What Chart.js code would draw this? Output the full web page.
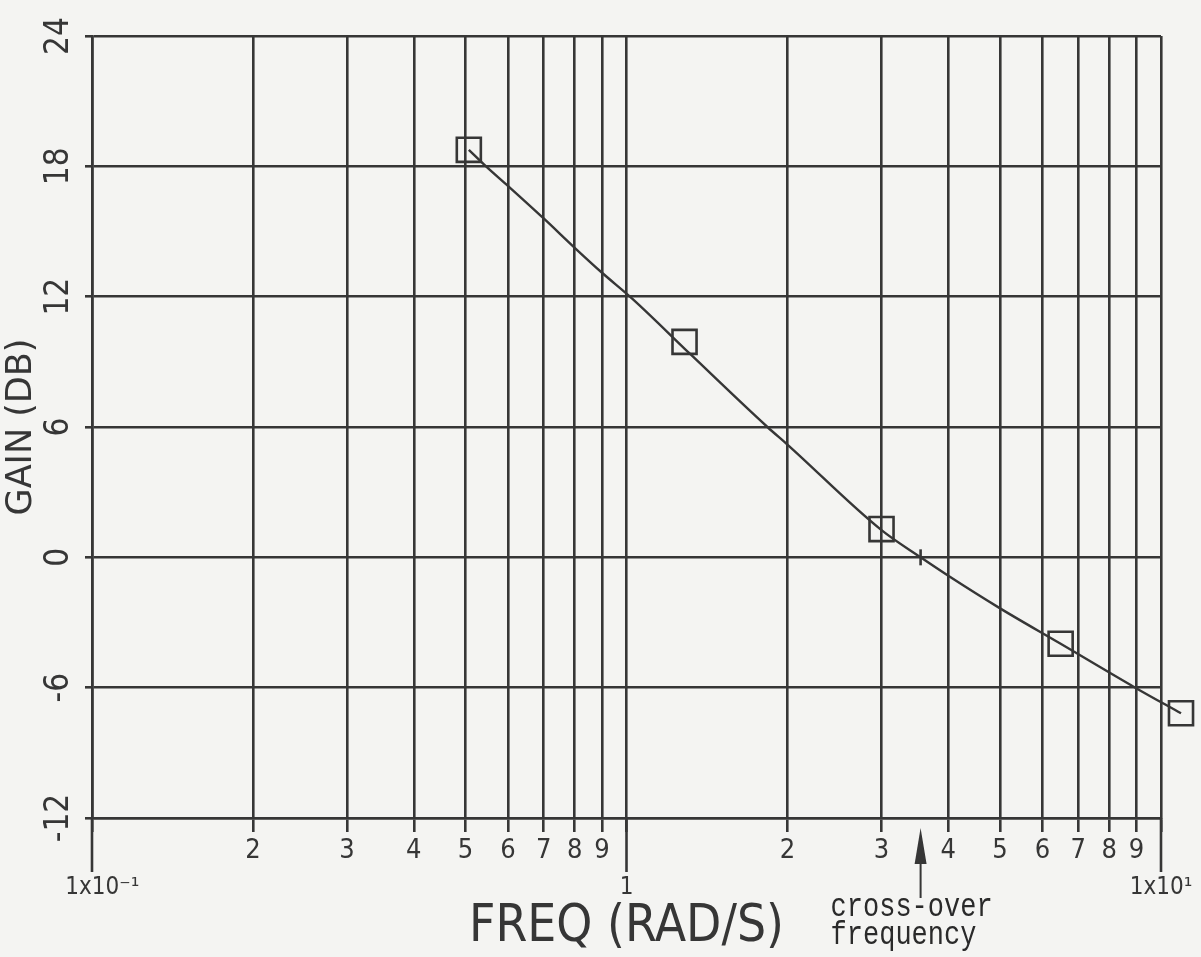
<!DOCTYPE html>
<html>
<head>
<meta charset="utf-8">
<title>Gain vs frequency</title>
<script src="https://cdn.jsdelivr.net/npm/chart.js@4.4.1/dist/chart.umd.min.js"></script>
<style>
  html, body { margin: 0; padding: 0; background: #f4f4f2; }
  #wrap { width: 1201px; height: 957px; }
</style>
</head>
<body>
<div id="wrap"><canvas id="chart" width="1201" height="957"></canvas></div>
<script>
// gain curve (rad/s, dB)
const curveFreq = [0.507, 0.546, 0.60, 0.70, 0.80, 0.90, 1.026, 1.317, 1.835, 2.0, 3.0, 3.55, 4.0, 5.0, 6.49, 8.95, 10.9];
const curveGain = [18.76, 18.0, 17.1, 15.6, 14.25, 13.1, 11.9, 9.35, 6.0, 5.19, 1.25, 0.0, -0.85, -2.35, -3.98, -6.0, -7.18];

// sample points (square markers)
const markerFreq = [0.507, 1.284, 3.0, 6.49, 10.9];
const markerGain = [18.76, 9.92, 1.3, -3.98, -7.18];

const crossoverFreq = 3.55;

const xTickValues = [0.1, 0.2, 0.3, 0.4, 0.5, 0.6, 0.7, 0.8, 0.9, 1, 2, 3, 4, 5, 6, 7, 8, 9, 10];
const xTickLabels = ['1x10⁻¹', '2', '3', '4', '5', '6', '7', '8', '9', '1', '2', '3', '4', '5', '6', '7', '8', '9', '1x10¹'];
const xMajorTicks = [0.1, 1, 10];
const yTickValues = [-12, -6, 0, 6, 12, 18, 24];
const yTickLabels = ['-12', '-6', '0', '6', '12', '18', '24'];

const INK = '#363636';
const FONT = "'DejaVu Sans Condensed', 'DejaVu Sans', sans-serif";

const toPoints = (xs, ys) => xs.map((v, i) => ({ x: v, y: ys[i] }));

// markers past the right edge are skipped by the point element, draw them anyway
const overflowPoints = {
  id: 'overflowPoints',
  afterDatasetsDraw(chart) {
    const { ctx, chartArea: a } = chart;
    const meta = chart.getDatasetMeta(1);
    meta.data.forEach(el => {
      if (el.x < a.left || el.x > a.right || el.y < a.top || el.y > a.bottom) el.draw(ctx);
    });
  }
};

// decade ticks, cross-over mark and the arrow note
const extras = {
  id: 'extras',
  afterDraw(chart) {
    const { ctx, scales: { x, y } } = chart;
    const bottom = chart.chartArea.bottom;
    ctx.save();
    ctx.strokeStyle = INK;
    ctx.fillStyle = INK;
    ctx.lineWidth = 2.6;

    xMajorTicks.forEach(v => {
      const px = x.getPixelForValue(v);
      ctx.beginPath();
      ctx.moveTo(px, bottom);
      ctx.lineTo(px, bottom + 54);
      ctx.stroke();
    });

    const cx = x.getPixelForValue(crossoverFreq);
    const cy = y.getPixelForValue(0);
    ctx.beginPath();
    ctx.moveTo(cx, cy - 8);
    ctx.lineTo(cx, cy + 8);
    ctx.stroke();

    ctx.lineWidth = 2;
    ctx.beginPath();
    ctx.moveTo(cx, bottom + 44);
    ctx.lineTo(cx, bottom + 80);
    ctx.stroke();
    ctx.beginPath();
    ctx.moveTo(cx, bottom + 10);
    ctx.lineTo(cx - 6, bottom + 46);
    ctx.lineTo(cx + 6, bottom + 46);
    ctx.closePath();
    ctx.fill();

    ctx.fillStyle = '#2a2a2a';
    ctx.font = "27px 'Liberation Mono', monospace";
    ctx.textAlign = 'left';
    ctx.textBaseline = 'alphabetic';
    [['cross-over', 98], ['frequency', 126]].forEach(([txt, dy]) => {
      ctx.save();
      ctx.translate(cx - 90, bottom + dy);
      ctx.scale(1, 1.25);
      ctx.fillText(txt, 0, 0);
      ctx.restore();
    });
    ctx.restore();
  }
};

new Chart(document.getElementById('chart'), {
  type: 'scatter',
  data: {
    datasets: [
      {
        data: toPoints(curveFreq, curveGain),
        showLine: true,
        borderColor: INK,
        borderWidth: 2.4,
        pointRadius: 0,
        cubicInterpolationMode: 'monotone',
        clip: false
      },
      {
        data: toPoints(markerFreq, markerGain),
        pointStyle: 'rect',
        pointRadius: 17,
        borderColor: INK,
        borderWidth: 2.6,
        backgroundColor: 'rgba(0,0,0,0)',
        clip: false
      }
    ]
  },
  options: {
    responsive: false,
    animation: false,
    layout: { padding: { top: 36, right: 40, left: 0, bottom: 0 } },
    plugins: { legend: { display: false }, tooltip: { enabled: false } },
    scales: {
      x: {
        type: 'logarithmic',
        min: 0.1,
        max: 10,
        afterBuildTicks: s => { s.ticks = xTickValues.map(v => ({ value: v })); },
        afterFit: s => { s.height = 139; s.paddingLeft = 0; s.paddingRight = 0; },
        grid: { color: INK, lineWidth: 2.6, tickLength: 14, tickColor: INK, tickWidth: 2.6 },
        border: { color: INK, width: 2.6 },
        ticks: {
          autoSkip: false,
          maxRotation: 0,
          padding: 5,
          color: INK,
          font: c => (c.tick && xMajorTicks.includes(c.tick.value))
            ? { family: FONT, size: 24, lineHeight: 1.4 }
            : { family: FONT, size: 27, lineHeight: 1.0 },
          callback: (value, index) => {
            const lbl = xTickLabels[index];
            if (!xMajorTicks.includes(value)) return lbl;
            // decade labels sit on a second line, the first one nudged right
            return ['', index === 0 ? '   ' + lbl : lbl];
          }
        },
        title: {
          display: true,
          text: 'FREQ (RAD/S)',
          color: INK,
          font: { family: FONT, size: 51, lineHeight: 1 },
          padding: { top: 0, bottom: 4 }
        }
      },
      y: {
        min: -12,
        max: 24,
        afterBuildTicks: s => { s.ticks = yTickValues.map(v => ({ value: v })); },
        afterFit: s => { s.width = 92; s.paddingTop = 0; s.paddingBottom = 0; },
        grid: { color: INK, lineWidth: 2.6, tickLength: 7, tickColor: INK, tickWidth: 2.6 },
        border: { color: INK, width: 2.6 },
        ticks: {
          minRotation: 90,
          crossAlign: 'center',
          padding: 1,
          color: INK,
          font: { family: FONT, size: 33, lineHeight: 1 },
          callback: value => yTickLabels[yTickValues.indexOf(value)]
        },
        title: {
          display: true,
          text: 'GAIN (DB)',
          color: INK,
          font: { family: "'DejaVu Sans', sans-serif", size: 35, lineHeight: 1 },
          padding: { top: 4, bottom: 0 }
        }
      }
    }
  },
  plugins: [overflowPoints, extras]
});
</script>
</body>
</html>
